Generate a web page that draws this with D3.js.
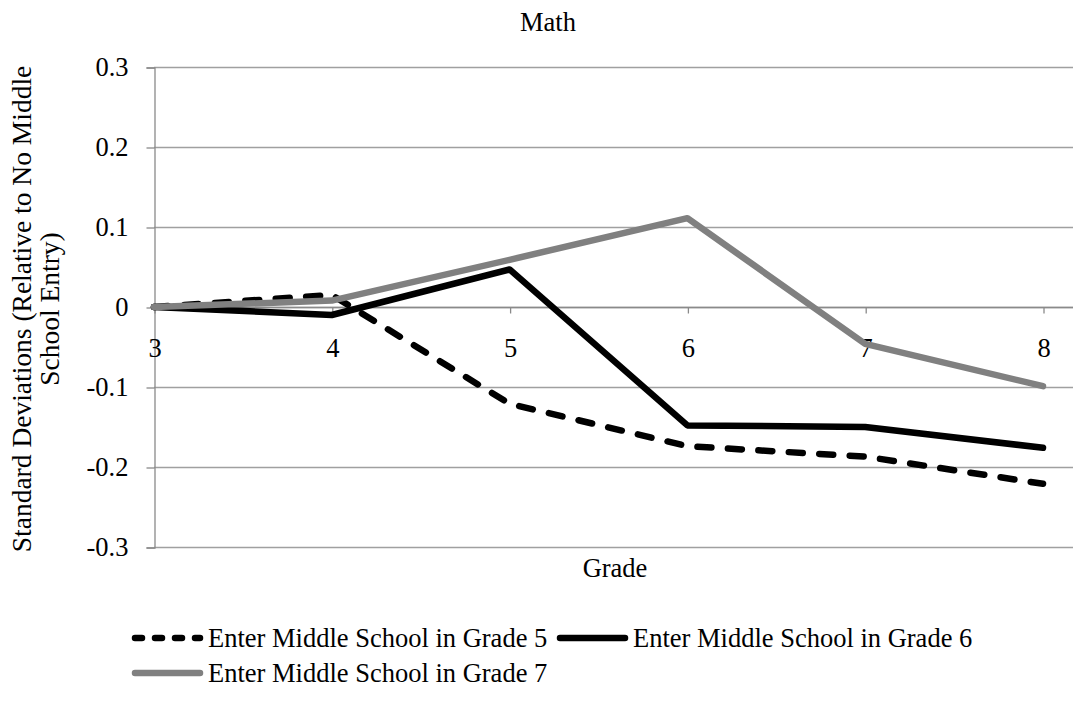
<!DOCTYPE html>
<html>
<head>
<meta charset="utf-8">
<script src="https://cdn.jsdelivr.net/npm/d3@7"></script>
<style>
  html, body { margin: 0; padding: 0; background: #fff; }
  svg { display: block; font-family: "Liberation Serif", "Times New Roman", serif; }
</style>
</head>
<body>
<svg id="chart" width="1073" height="702"></svg>
<script>
// Grades on the category axis
const grades = [3, 4, 5, 6, 7, 8];
// Y axis tick values
const yTicks = [-0.3, -0.2, -0.1, 0, 0.1, 0.2, 0.3];
// Series: standard deviations relative to no middle school entry
const seriesNames = [
  "Enter Middle School in Grade 5",
  "Enter Middle School in Grade 6",
  "Enter Middle School in Grade 7"
];
const grade5Entry = [0, 0.015, -0.121, -0.174, -0.187, -0.221];
const grade6Entry = [0, -0.010, 0.047, -0.148, -0.150, -0.176];
const grade7Entry = [0, 0.008, 0.059, 0.111, -0.046, -0.099];

const FONT = "Liberation Serif, Times New Roman, serif";

const series = [
  { name: seriesNames[0], values: grade5Entry, color: "#000", dash: "14,16.5", legendDash: "7,13" },
  { name: seriesNames[1], values: grade6Entry, color: "#000", dash: null, legendDash: null },
  { name: seriesNames[2], values: grade7Entry, color: "#808080", dash: null, legendDash: null }
];

const svg = d3.select("#chart");
const plotLeft = 154, plotRight = 1073, plotTop = 67, plotBottom = 547;

const x = d3.scalePoint().domain(grades).range([154, 1043]);
const y = d3.scaleLinear().domain([-0.3, 0.3]).range([plotBottom, plotTop]);

// Horizontal gridlines
svg.append("g").selectAll("line").data(yTicks).join("line")
  .attr("x1", plotLeft).attr("x2", plotRight)
  .attr("y1", d => Math.round(y(d)) + 0.5).attr("y2", d => Math.round(y(d)) + 0.5)
  .attr("stroke", "#a0a0a0").attr("stroke-width", 1.3);

// Y axis with outward ticks
const yAxis = d3.axisLeft(y).tickValues(yTicks).tickSize(8).tickPadding(18)
  .tickFormat(d => d === 0 ? "0" : d.toFixed(1));
const yg = svg.append("g").attr("transform", `translate(${plotLeft + 0.5},0.5)`).call(yAxis)
  .attr("font-family", FONT);
yg.select(".domain").attr("stroke", "#8a8a8a").attr("stroke-width", 1.3);
yg.selectAll(".tick line").attr("stroke", "#8a8a8a").attr("stroke-width", 1.3);
yg.selectAll(".tick text").attr("font-size", 26.5).attr("fill", "#000");

// Category axis crossing at zero
const xAxis = d3.axisBottom(x).tickSize(6).tickPadding(25).tickSizeOuter(0);
const xg = svg.append("g").attr("transform", `translate(0.5,${Math.round(y(0)) + 0.5})`).call(xAxis)
  .attr("font-family", FONT);
xg.select(".domain").attr("d", `M${plotLeft},0H${plotRight}`)
  .attr("stroke", "#8a8a8a").attr("stroke-width", 1.3);
xg.selectAll(".tick line").attr("stroke", "#8a8a8a").attr("stroke-width", 1.3);
xg.selectAll(".tick text").attr("font-size", 26.5).attr("fill", "#000");

// Series lines
const line = d3.line().x((d, i) => x(grades[i])).y(d => y(d));
svg.append("g").selectAll("path").data(series).join("path")
  .attr("d", d => line(d.values))
  .attr("fill", "none")
  .attr("stroke", d => d.color)
  .attr("stroke-width", 6.5)
  .attr("stroke-linejoin", "round")
  .attr("stroke-linecap", "round")
  .attr("stroke-dasharray", d => d.dash);

// Title and axis titles
svg.append("text").attr("x", 548).attr("y", 31).attr("text-anchor", "middle")
  .attr("font-size", 26.5).text("Math");
svg.append("text").attr("x", 615).attr("y", 577).attr("text-anchor", "middle")
  .attr("font-size", 26.5).text("Grade");

const yTitle = svg.append("text").attr("transform", "translate(0,309) rotate(-90)")
  .attr("text-anchor", "middle").attr("font-size", 27.5);
yTitle.append("tspan").attr("x", 0).attr("y", 31).text("Standard Deviations (Relative to No Middle");
yTitle.append("tspan").attr("x", 0).attr("y", 59).text("School Entry)");

// Legend
const legendItems = [
  { s: series[0], x: 135, y: 638 },
  { s: series[1], x: 560, y: 638 },
  { s: series[2], x: 135, y: 673 }
];
const lg = svg.append("g").selectAll("g").data(legendItems).join("g")
  .attr("transform", d => `translate(${d.x},${d.y})`);
lg.append("line").attr("x1", 0).attr("x2", 65).attr("y1", 0).attr("y2", 0)
  .attr("stroke", d => d.s.color).attr("stroke-width", 6.5)
  .attr("stroke-linecap", "round")
  .attr("stroke-dasharray", d => d.s.legendDash);
lg.append("text").attr("x", 73).attr("y", 9).attr("font-size", 26.5)
  .text(d => d.s.name);
</script>
</body>
</html>
